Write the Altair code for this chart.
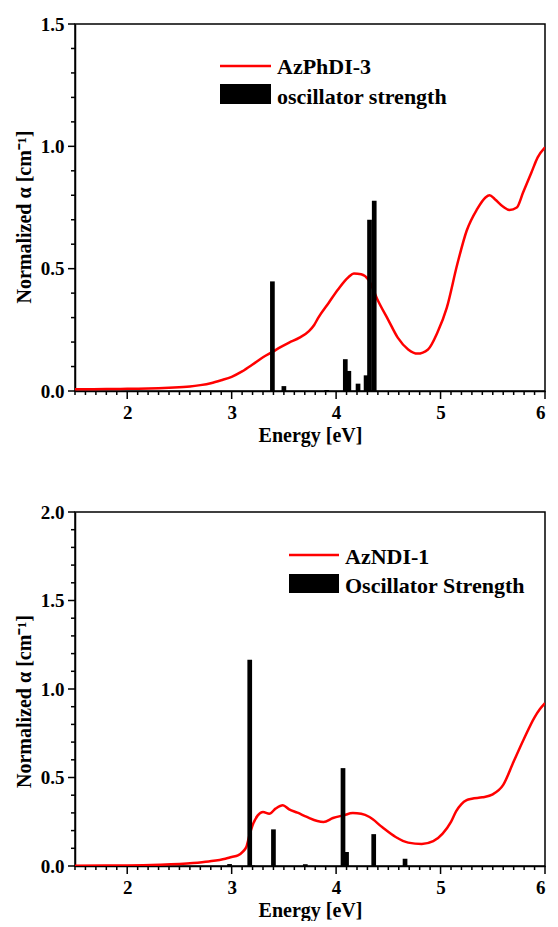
import altair as alt
import pandas as pd

FONT = "Liberation Serif"
RED = "#ff0000"

# ---------------- top panel: AzPhDI-3 ----------------
top_E = [1.5, 1.8, 2.0, 2.2, 2.4, 2.6, 2.7, 2.8, 2.9, 3.0, 3.1, 3.2, 3.3, 3.4,
         3.45, 3.55, 3.65, 3.74, 3.79, 3.83, 3.93, 4.02, 4.12, 4.17, 4.24, 4.31, 4.4,
         4.5, 4.59, 4.69, 4.78, 4.88, 4.97, 5.06, 5.16, 5.25, 5.35, 5.43, 5.47,
         5.52, 5.6, 5.66, 5.73, 5.79, 5.87, 5.93, 6.0]
top_alpha = [0.007, 0.008, 0.009, 0.010, 0.013, 0.018, 0.024, 0.032, 0.044, 0.058,
             0.080, 0.108, 0.138, 0.162, 0.175, 0.198, 0.218, 0.245, 0.270, 0.300, 0.361,
             0.416, 0.466, 0.480, 0.477, 0.455, 0.370, 0.290, 0.218, 0.170, 0.153,
             0.170, 0.239, 0.341, 0.518, 0.655, 0.743, 0.791, 0.800, 0.784, 0.753,
             0.740, 0.750, 0.811, 0.893, 0.955, 0.996]
top_bar_E = [3.39, 3.50, 3.91, 4.088, 4.122, 4.21, 4.287, 4.32, 4.365]
top_bar_f = [0.448, 0.020, 0.004, 0.130, 0.082, 0.030, 0.064, 0.700, 0.778]
top_labels = ["AzPhDI-3", "oscillator strength"]

# ---------------- bottom panel: AzNDI-1 ----------------
bot_E = [1.5, 2.0, 2.31, 2.63, 2.78, 2.94, 3.0, 3.06, 3.11, 3.14, 3.17, 3.2, 3.25,
         3.3, 3.36, 3.42, 3.49, 3.55, 3.63, 3.72, 3.82, 3.88, 3.97, 4.07, 4.16,
         4.24, 4.32, 4.44, 4.57, 4.69, 4.82, 4.93, 5.02, 5.1, 5.15, 5.2, 5.25, 5.3,
         5.4, 5.5, 5.6, 5.7, 5.8, 5.9, 5.95, 6.0]
bot_alpha = [0.002, 0.003, 0.007, 0.017, 0.026, 0.041, 0.051, 0.060, 0.083, 0.107,
             0.173, 0.230, 0.286, 0.305, 0.295, 0.324, 0.343, 0.320, 0.301, 0.277,
             0.254, 0.249, 0.271, 0.286, 0.299, 0.295, 0.277, 0.220, 0.164, 0.132,
             0.124, 0.140, 0.183, 0.249, 0.310, 0.350, 0.372, 0.380, 0.388, 0.405,
             0.458, 0.590, 0.720, 0.840, 0.885, 0.920]
bot_bar_E = [2.98, 3.173, 3.20, 3.40, 3.705, 4.066, 4.10, 4.36, 4.66]
bot_bar_f = [0.011, 1.165, 0.003, 0.207, 0.010, 0.553, 0.079, 0.180, 0.041]
bot_labels = ["AzNDI-1", "Oscillator Strength"]

x_major = [2, 3, 4, 5, 6]
x_minor = [round(1.5 + 0.1 * i, 1) for i in range(46)]
x_minor = [v for v in x_minor if v not in x_major]

BAR_W = 0.045


def panel(E, A, bE, bF, ymax, ymajor, w, h, labels, leg, title_shift):
    y_minor = [round(0.1 * i, 1) for i in range(int(round(ymax * 10)) + 1)]
    y_minor = [v for v in y_minor if v not in ymajor]
    xs = alt.Scale(domain=[1.5, 6], nice=False, zero=False)
    ys = alt.Scale(domain=[0, ymax], nice=False, zero=False)
    # one shared axis definition per channel, used identically by every layer
    xa = alt.Axis(values=x_major, format="d", title="Energy [eV]", orient="bottom",
                  ticks=False, labelPadding=12, titlePadding=3, grid=False)
    ya = alt.Axis(values=ymajor, format=".1f", title="Normalized α [cm⁻¹]",
                  orient="left", ticks=False, labelPadding=11, titlePadding=6,
                  grid=False, titleY=h / 2 + title_shift)
    cdf = pd.DataFrame({"E": E, "a": A})
    bdf = pd.DataFrame({"E": bE, "f": bF})

    line = alt.Chart(cdf).mark_line(color=RED, strokeWidth=2.5, clip=True,
                                    interpolate="monotone").encode(
        x=alt.X("E:Q", scale=xs, axis=xa),
        y=alt.Y("a:Q", scale=ys, axis=ya),
    )
    bars = alt.Chart(bdf).transform_calculate(
        x1=f"datum.E - {BAR_W / 2}", x2=f"datum.E + {BAR_W / 2}", z="0"
    ).mark_rect(color="black").encode(
        x=alt.X("x1:Q", scale=xs, axis=xa),
        x2="x2:Q",
        y=alt.Y("f:Q", scale=ys, axis=ya),
        y2="z:Q",
    )

    # outward axis tick marks, major and minor
    def xtick(vals, L):
        return alt.Chart(pd.DataFrame({"v": vals})).mark_rule(
            color="black", strokeWidth=1.5).encode(
            x=alt.X("v:Q", scale=xs, axis=xa),
            y=alt.value(h), y2=alt.value(h + L))

    def ytick(vals, L):
        return alt.Chart(pd.DataFrame({"v": vals})).mark_rule(
            color="black", strokeWidth=1.5).encode(
            y=alt.Y("v:Q", scale=ys, axis=ya),
            x=alt.value(0), x2=alt.value(-L))

    ticks = [xtick(x_major, 8), xtick(x_minor, 4), ytick(ymajor, 7), ytick(y_minor, 4)]

    one = pd.DataFrame({"k": [0]})
    lx0, lx1, ly, tx, ty1, ry0, ry1, ty2 = leg
    leg_line = alt.Chart(one).mark_rule(color=RED, strokeWidth=2.5).encode(
        x=alt.value(lx0), x2=alt.value(lx1), y=alt.value(ly))
    leg_rect = alt.Chart(one).mark_rect(color="black").encode(
        x=alt.value(lx0), x2=alt.value(lx1), y=alt.value(ry0), y2=alt.value(ry1))

    def leg_text(label, ty):
        return alt.Chart(one).mark_text(
            align="left", baseline="alphabetic", font=FONT, fontSize=22,
            fontWeight="bold", color="black"
        ).encode(x=alt.value(tx), y=alt.value(ty), text=alt.value(label))

    return alt.layer(line, bars, *ticks, leg_line, leg_rect,
                     leg_text(labels[0], ty1), leg_text(labels[1], ty2)
                     ).properties(width=w, height=h)


top = panel(top_E, top_alpha, top_bar_E, top_bar_f, 1.5, [0.0, 0.5, 1.0, 1.5],
            470, 367, top_labels, (145, 196, 42, 202, 50, 60, 80, 80), 9)
bottom = panel(bot_E, bot_alpha, bot_bar_E, bot_bar_f, 2.0, [0.0, 0.5, 1.0, 1.5, 2.0],
               470, 354, bot_labels, (214, 264, 43, 270, 52, 62, 81, 81), 12)

chart = alt.vconcat(top, bottom, spacing=56).properties(
    padding={"left": 5, "top": 6, "right": 0, "bottom": 0}
).configure_view(stroke="black", strokeWidth=1.5).configure_axis(
    labelFont=FONT, labelFontSize=19, labelFontWeight="bold", labelColor="black",
    titleFont=FONT, titleFontSize=20, titleFontWeight="bold", titleColor="black",
    domainColor="black", domainWidth=1.5,
)

chart.save("out.html", embed_options={"renderer": "svg", "actions": False})
